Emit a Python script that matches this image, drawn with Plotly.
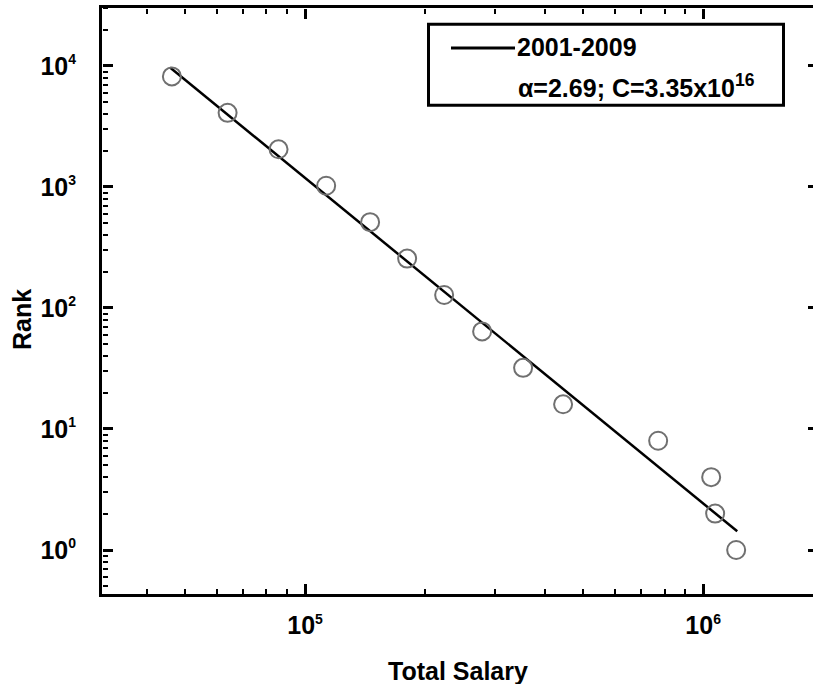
import plotly.graph_objects as go

# ---- data ----
salary = [46300, 63900, 85800, 113000, 145700, 180500, 223600, 278500,
          353000, 444900, 771000, 1047600, 1072000, 1210600]
rank = [8192, 4096, 2048, 1024, 512, 256, 128, 64, 32, 16, 8, 4, 2, 1]

fit_alpha = 2.69
fit_C = 3.35e16
fit_x = [45800, 1218000]
fit_y = [fit_C * v ** (-fit_alpha) for v in fit_x]

legend_label = "2001-2009"
legend_params = "α=2.69; C=3.35x10<sup>16</sup>"

x_tickvals = [1e5, 1e6]
x_ticktext = ["10<sup><span style='font-size:14px'>5</span></sup>",
              "10<sup><span style='font-size:14px'>6</span></sup>"]
y_tickvals = [1, 10, 100, 1000, 10000]
y_ticktext = ["10<sup><span style='font-size:14px'>%d</span></sup>" % i for i in range(5)]

x_minor = [m * 10 ** e for e in range(4, 7) for m in range(2, 10)]
y_minor = [m * 10 ** e for e in range(-1, 5) for m in range(2, 10)]

XR = [4.490, 6.276]
YR = [-0.3636, 4.479]

FONT = "Liberation Sans, Arial, Helvetica, sans-serif"

fig = go.Figure()
fig.add_trace(go.Scatter(x=fit_x, y=fit_y, mode="lines",
                         line=dict(color="black", width=2.5),
                         showlegend=False, hoverinfo="skip"))
fig.add_trace(go.Scatter(x=salary, y=rank, mode="markers",
                         marker=dict(symbol="circle-open", size=18,
                                     color="#707070", line=dict(width=2, color="#707070")),
                         showlegend=False))

# empty helper traces so that the tick-only overlay axes get drawn
for xa, ya in [("x", "y2"), ("x", "y3"), ("x", "y4"),
               ("x2", "y"), ("x3", "y"), ("x4", "y"), ("x5", "y")]:
    fig.add_trace(go.Scatter(x=[], y=[], xaxis=xa, yaxis=ya, mode="markers",
                             showlegend=False, hoverinfo="skip"))

L, T, B = 102, 8, 90
W, H = 813, 684
pw, ph = W - L, H - T - B
def px_x(p):
    return (p - L) / pw
def px_y(p):
    return (H - B - p) / ph

tickfont = dict(family=FONT, size=25, color="black", weight="bold")

def tick_axis(kind, over, side, pos, vals, ln, wd):
    rng = XR if kind == "x" else YR
    return dict(type="log", range=rng, overlaying=over, anchor="free",
                position=pos, side=side, showgrid=False, zeroline=False,
                showline=False, showticklabels=False,
                ticks="outside", ticklen=ln, tickwidth=wd, tickcolor="black",
                tickmode="array", tickvals=vals)

fig.update_layout(
    width=W, height=H,
    margin=dict(l=L, r=0, t=T, b=B),
    paper_bgcolor="white", plot_bgcolor="white",
    showlegend=False,
    xaxis=dict(type="log", range=XR, showgrid=False, zeroline=False,
               showline=True, linecolor="black", linewidth=3, mirror=True,
               ticks="", tickmode="array", tickvals=x_tickvals, ticktext=x_ticktext,
               ticklabelstandoff=7, tickfont=tickfont),
    yaxis=dict(type="log", range=YR, showgrid=False, zeroline=False,
               showline=True, linecolor="black", linewidth=3, mirror=False,
               ticks="", tickmode="array", tickvals=y_tickvals, ticktext=y_ticktext,
               ticklabelstandoff=18, tickfont=tickfont),
    # inward-pointing ticks built from overlay axes
    yaxis2=tick_axis("y", "y", "right", 0, y_tickvals, 10, 3),
    yaxis3=tick_axis("y", "y", "right", 0, y_minor, 5, 2),
    yaxis4=tick_axis("y", "y", "left", 1, y_tickvals, 5, 3),
    xaxis2=tick_axis("x", "x", "top", 0, x_tickvals, 10, 3),
    xaxis3=tick_axis("x", "x", "top", 0, x_minor, 5, 2),
    xaxis4=tick_axis("x", "x", "bottom", 1, x_tickvals, 10, 3),
    xaxis5=tick_axis("x", "x", "bottom", 1, x_minor, 5, 2),
)

# legend box drawn by hand
fig.add_shape(type="rect", xref="paper", yref="paper",
              x0=px_x(428.5), x1=px_x(783.5), y0=px_y(105.3), y1=px_y(24.3),
              line=dict(color="black", width=3), fillcolor="white")
fig.add_shape(type="line", xref="paper", yref="paper",
              x0=px_x(451), x1=px_x(515), y0=px_y(48), y1=px_y(48),
              line=dict(color="black", width=3))
fig.add_annotation(xref="paper", yref="paper", x=px_x(515), y=px_y(47),
                   xanchor="left", yanchor="middle", showarrow=False,
                   text=legend_label,
                   font=dict(family=FONT, size=25, color="black", weight="bold"))
fig.add_annotation(xref="paper", yref="paper", x=px_x(516), y=px_y(86),
                   xanchor="left", yanchor="middle", showarrow=False,
                   text=legend_params,
                   font=dict(family=FONT, size=25, color="black", weight="bold"))

fig.add_annotation(xref="paper", yref="paper", x=px_x(458), y=px_y(671),
                   xanchor="center", yanchor="middle", showarrow=False,
                   text="Total Salary",
                   font=dict(family=FONT, size=25, color="black", weight="bold"))
fig.add_annotation(xref="paper", yref="paper", x=px_x(22), y=px_y(320),
                   xanchor="center", yanchor="middle", showarrow=False,
                   text="Rank", textangle=-90,
                   font=dict(family=FONT, size=25, color="black", weight="bold"))

fig.write_html("out.html")
